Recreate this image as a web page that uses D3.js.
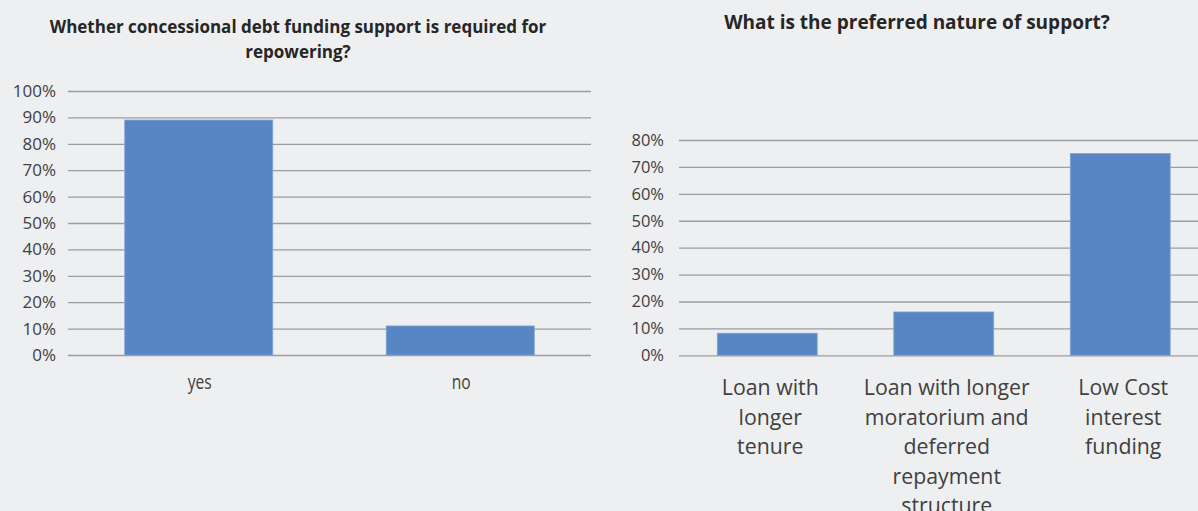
<!DOCTYPE html>
<html>
<head>
<meta charset="utf-8">
<script src="https://cdn.jsdelivr.net/npm/d3@7"></script>
<style>
  html, body { margin: 0; padding: 0; background: #eeeff1; }
  svg { display: block; font-family: "Open Sans", sans-serif; }
</style>
</head>
<body>
<svg id="chart" width="1198" height="511"></svg>
<script>
// Survey: is concessional debt support needed for repowering?
const needCategories = ["yes", "no"];
const needValues = [0.89, 0.11];
const needTicks = [0, 0.1, 0.2, 0.3, 0.4, 0.5, 0.6, 0.7, 0.8, 0.9, 1.0];
const needTitle = ["Whether concessional debt funding support is required for", "repowering?"];

// Survey: preferred nature of support
const supportCategories = [
  ["Loan with", "longer", "tenure"],
  ["Loan with longer", "moratorium and", "deferred", "repayment", "structure"],
  ["Low Cost", "interest", "funding"]
];
const supportValues = [0.082, 0.161, 0.75];
const supportTicks = [0, 0.1, 0.2, 0.3, 0.4, 0.5, 0.6, 0.7, 0.8];
const supportTitle = ["What is the preferred nature of support?"];

const BAR = "#5786c2";
const GRID = "#9c9c9c";
const TEXT = "#404040";
const fmt = d3.format(".0%");

const svg = d3.select("#chart");

function drawPanel(opts) {
  const g = svg.append("g");
  const x = d3.scaleBand()
    .domain(d3.range(opts.values.length))
    .range([opts.x0, opts.x1])
    .paddingInner(0.434)
    .paddingOuter(0.217);
  const y = d3.scaleLinear().domain(opts.domain).range([opts.y0, opts.y1]);

  // gridlines + labels via axis
  const axis = d3.axisLeft(y)
    .tickValues(opts.ticks)
    .tickFormat(fmt)
    .tickSize(-(opts.x1 - opts.x0))
    .tickPadding(opts.tickPad);
  const ag = g.append("g")
    .attr("transform", `translate(${opts.x0},0)`)
    .call(axis);
  ag.select(".domain").remove();
  ag.selectAll(".tick line").attr("stroke", GRID).attr("stroke-width", 1.3);
  ag.selectAll(".tick text")
    .attr("fill", TEXT)
    .attr("font-size", opts.tickSize)
    .attr("font-family", "Open Sans, sans-serif");

  // bars
  g.selectAll("rect.bar")
    .data(opts.values)
    .join("rect")
    .attr("class", "bar")
    .attr("x", (d, i) => x(i))
    .attr("width", x.bandwidth())
    .attr("y", d => y(d))
    .attr("height", d => y(0) - y(d))
    .attr("fill", BAR)
    .attr("stroke", "#7fa3d3")
    .attr("stroke-width", 0.8);

  // category labels
  opts.labels.forEach((lines, i) => {
    const cx = x(i) + x.bandwidth() / 2 + opts.catShift;
    const t = g.append("text")
      .attr("text-anchor", "middle")
      .attr("fill", TEXT)
      .attr("font-size", opts.catSize)
      .attr("transform", `translate(${cx},${opts.catY}) scale(${opts.catScaleX},1)`);
    lines.forEach((line, k) => {
      t.append("tspan").attr("x", 0).attr("y", k * opts.catLine).text(line);
    });
  });

  // title
  const tt = g.append("text")
    .attr("text-anchor", "middle")
    .attr("fill", "#262626")
    .attr("font-weight", "bold")
    .attr("font-size", opts.titleSize)
    .attr("transform", `translate(${opts.titleX},${opts.titleY})`);
  opts.title.forEach((line, k) => {
    tt.append("tspan").attr("x", 0).attr("y", k * 25).text(line);
  });
}

drawPanel({
  values: needValues,
  labels: needCategories.map(c => [c]),
  ticks: needTicks,
  domain: [0, 1],
  x0: 68, x1: 591, y0: 355, y1: 91,
  tickPad: 12, tickSize: 17,
  catSize: 20, catScaleX: 0.78, catY: 389, catLine: 25, catShift: 1,
  title: needTitle, titleX: 298, titleY: 33, titleSize: 17
});

drawPanel({
  values: supportValues,
  labels: supportCategories,
  ticks: supportTicks,
  domain: [0, 0.8],
  x0: 679, x1: 1208.5, y0: 355.3, y1: 140,
  tickPad: 15, tickSize: 16.5,
  catSize: 21.3, catScaleX: 1, catY: 395, catLine: 29.5, catShift: 3,
  title: supportTitle, titleX: 917, titleY: 29, titleSize: 19
});
</script>
</body>
</html>
